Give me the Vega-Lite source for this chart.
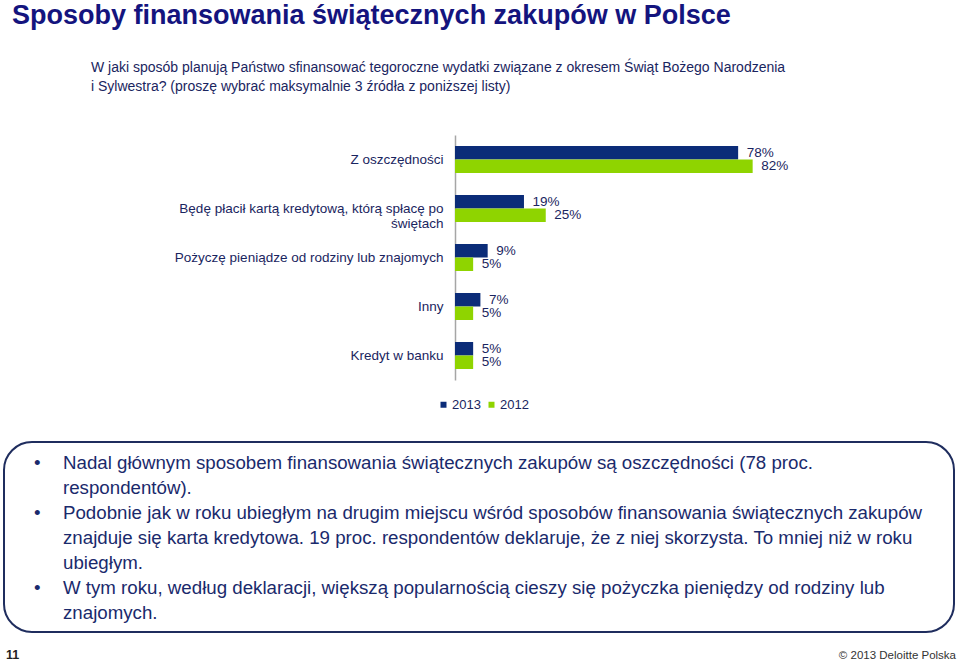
{
  "$schema": "https://vega.github.io/schema/vega-lite/v6.json",
  "background": "white",
  "padding": {"left": 3, "top": 2, "right": 0, "bottom": 0},
  "spacing": 29,
  "resolve": {"scale": {"color": "independent"}, "legend": {"color": "independent"}},
  "config": {
    "view": {"stroke": null},
    "font": "Liberation Sans",
    "title": {"font": "Liberation Sans"},
    "axis": {"labelFont": "Liberation Sans"},
    "legend": {"labelFont": "Liberation Sans"},
    "text": {"font": "Liberation Sans"}
  },
  "title": {
    "text": "Sposoby finansowania świątecznych zakupów w Polsce",
    "anchor": "start",
    "dx": 9,
    "fontSize": 27,
    "fontWeight": "bold",
    "color": "#14147E",
    "offset": 31
  },
  "vconcat": [
    {
      "width": 957,
      "height": 245,
      "title": {
        "text": [
          "W jaki sposób planują Państwo sfinansować tegoroczne wydatki związane z okresem Świąt Bożego Narodzenia",
          "i Sylwestra? (proszę wybrać maksymalnie 3 źródła z poniższej listy)"
        ],
        "anchor": "start",
        "dx": 87,
        "fontSize": 14,
        "fontWeight": "normal",
        "lineHeight": 19,
        "color": "#1A2560",
        "offset": 41
      },
      "data": {
        "values": [
          {"cat": "Z oszczędności", "year": "2013", "value": 0.78},
          {"cat": "Z oszczędności", "year": "2012", "value": 0.82},
          {"cat": "Będę płacił kartą kredytową, którą spłacę po świętach", "year": "2013", "value": 0.19},
          {"cat": "Będę płacił kartą kredytową, którą spłacę po świętach", "year": "2012", "value": 0.25},
          {"cat": "Pożyczę pieniądze od rodziny lub znajomych", "year": "2013", "value": 0.09},
          {"cat": "Pożyczę pieniądze od rodziny lub znajomych", "year": "2012", "value": 0.05},
          {"cat": "Inny", "year": "2013", "value": 0.07},
          {"cat": "Inny", "year": "2012", "value": 0.05},
          {"cat": "Kredyt w banku", "year": "2013", "value": 0.05},
          {"cat": "Kredyt w banku", "year": "2012", "value": 0.05}
        ]
      },
      "encoding": {
        "y": {
          "field": "cat",
          "type": "nominal",
          "sort": null,
          "scale": {"paddingInner": 0.45, "paddingOuter": 0.225},
          "axis": {
            "title": null,
            "offset": -451,
            "ticks": false,
            "domainColor": "#A6A6A6",
            "domainWidth": 1.5,
            "labelPadding": 12,
            "labelFontSize": 13.5,
            "labelColor": "#1A2560",
            "labelLimit": 400,
            "labelLineHeight": 15,
            "labelExpr": "datum.label == 'Będę płacił kartą kredytową, którą spłacę po świętach' ? ['Będę płacił kartą kredytową, którą spłacę po', 'świętach'] : datum.label"
          }
        },
        "yOffset": {"field": "year", "type": "nominal", "sort": ["2013", "2012"], "scale": {"paddingInner": 0}},
        "x": {
          "field": "value",
          "type": "quantitative",
          "scale": {"domain": [0, 1], "range": [451, 814]},
          "axis": null
        }
      },
      "layer": [
        {
          "mark": {"type": "bar"},
          "encoding": {
            "color": {
              "field": "year",
              "type": "nominal",
              "scale": {"domain": ["2013", "2012"], "range": ["#0B2C78", "#8FD400"]},
              "legend": {
                "title": null,
                "orient": "none",
                "legendX": 433,
                "legendY": 263,
                "direction": "horizontal",
                "symbolType": "square",
                "symbolSize": 36,
                "symbolStrokeWidth": 0,
                "labelFontSize": 13,
                "labelColor": "#1A2560",
                "labelOffset": 2,
                "columnPadding": 4
              }
            }
          }
        },
        {
          "mark": {"type": "text", "align": "left", "baseline": "middle", "dx": 8.5, "fontSize": 13.5, "color": "#1A2560"},
          "encoding": {
            "text": {"field": "value", "type": "quantitative", "format": ".0%"}
          }
        }
      ]
    },
    {
      "width": 950,
      "height": 190,
      "view": {"stroke": "#1F2D5E", "strokeWidth": 2, "cornerRadius": 28},
      "data": {
        "values": [
          {"line": 1, "bullet": "•", "text": "Nadal głównym sposobem finansowania świątecznych zakupów są oszczędności (78 proc."},
          {"line": 2, "bullet": "", "text": "respondentów)."},
          {"line": 3, "bullet": "•", "text": "Podobnie jak w roku ubiegłym na drugim miejscu wśród sposobów finansowania świątecznych zakupów"},
          {"line": 4, "bullet": "", "text": "znajduje się karta kredytowa. 19 proc. respondentów deklaruje, że z niej skorzysta. To mniej niż w roku"},
          {"line": 5, "bullet": "", "text": "ubiegłym."},
          {"line": 6, "bullet": "•", "text": "W tym roku, według deklaracji, większą popularnością cieszy się pożyczka pieniędzy od rodziny lub"},
          {"line": 7, "bullet": "", "text": "znajomych."}
        ]
      },
      "layer": [
        {
          "mark": {"type": "text", "align": "left", "baseline": "middle", "dy": 1, "fontSize": 18.7, "color": "#1A2A6C"},
          "encoding": {
            "y": {"field": "line", "type": "ordinal", "scale": {"type": "point", "padding": 0.78}, "axis": null},
            "x": {"value": 30},
            "text": {"field": "bullet"}
          }
        },
        {
          "mark": {"type": "text", "align": "left", "baseline": "middle", "dy": 1, "fontSize": 18.7, "color": "#1A2A6C"},
          "encoding": {
            "y": {"field": "line", "type": "ordinal", "scale": {"type": "point", "padding": 0.78}, "axis": null},
            "x": {"value": 59},
            "text": {"field": "text"}
          }
        },
        {
          "data": {"values": [{"page": "11", "copy": "© 2013 Deloitte Polska"}]},
          "mark": {"type": "text", "align": "left", "baseline": "alphabetic", "fontSize": 12.5, "fontWeight": "bold", "color": "#222222"},
          "encoding": {"x": {"value": 2}, "y": {"value": 217}, "text": {"field": "page"}}
        },
        {
          "data": {"values": [{"page": "11", "copy": "© 2013 Deloitte Polska"}]},
          "mark": {"type": "text", "align": "right", "baseline": "alphabetic", "fontSize": 11.5, "color": "#333333"},
          "encoding": {"x": {"value": 952}, "y": {"value": 217}, "text": {"field": "copy"}}
        }
      ]
    }
  ]
}
